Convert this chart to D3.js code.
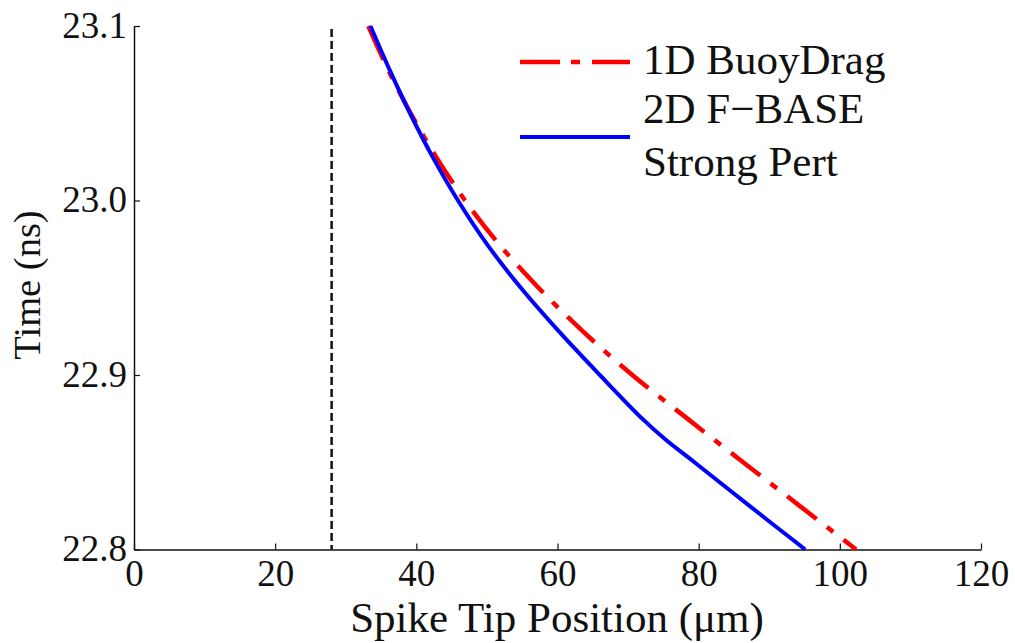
<!DOCTYPE html>
<html>
<head>
<meta charset="utf-8">
<script src="https://cdn.jsdelivr.net/npm/d3@7"></script>
<style>
  html, body { margin: 0; padding: 0; background: #fff; }
  svg { display: block; }
  text { font-family: "Liberation Serif", "Times New Roman", serif; fill: #111; }
</style>
</head>
<body>
<svg id="chart" width="1015" height="643"></svg>
<script>
// Spike tip trajectories: position (µm) versus time (ns)
const buoyDragTime = [23.1, 23.075, 23.05, 23.025, 23.0, 22.975, 22.95, 22.925, 22.9, 22.875, 22.85, 22.825, 22.8];
const buoyDragPos  = [33.2, 36.0, 39.2, 42.8, 46.9, 51.7, 57.3, 63.6, 70.6, 78.4, 86.3, 94.3, 102.3];

const fbaseTime = [23.1, 23.075, 23.05, 23.025, 23.0, 22.975, 22.95, 22.925, 22.9, 22.875, 22.863, 22.85, 22.825, 22.8];
const fbasePos  = [33.5, 36.2, 39.1, 42.3, 45.9, 50.0, 54.8, 60.2, 66.0, 72.0, 75.3, 79.4, 87.2, 95.1];

// Initial interface position (vertical reference line)
const interfacePos = 28;

const xTicks = [0, 20, 40, 60, 80, 100, 120];
const yTicks = [22.8, 22.9, 23.0, 23.1];

const seriesNames = ["1D BuoyDrag", "2D F\u2212BASE", "Strong Pert"];

const svg = d3.select("#chart");
const x = d3.scaleLinear().domain([0, 120]).range([134, 981]);
const y = d3.scaleLinear().domain([22.8, 23.1]).range([549.5, 26]);

// Axes with small inward ticks
const xAxis = d3.axisBottom(x).tickValues(xTicks).tickSizeInner(-6).tickSizeOuter(0).tickPadding(10)
  .tickFormat(d3.format("d"));
const yAxis = d3.axisLeft(y).tickValues(yTicks).tickSizeInner(-6).tickSizeOuter(0).tickPadding(7)
  .tickFormat(d3.format(".1f"));

const gx = svg.append("g").attr("transform", `translate(0,${y(22.8)})`).call(xAxis);
const gy = svg.append("g").attr("transform", `translate(${x(0)},0)`).call(yAxis);
[gx, gy].forEach(g => {
  g.select(".domain").attr("stroke", "#111").attr("stroke-width", 1.5);
  g.selectAll(".tick line").attr("stroke", "#111").attr("stroke-width", 1.2);
  g.selectAll(".tick text").style("font-family", '"Liberation Serif", serif').attr("font-size", 37).attr("fill", "#111");
});
gy.selectAll(".tick text").attr("dy", "0.3em");
gx.selectAll(".tick text").attr("dy", "0.72em");

// Vertical dashed reference line
svg.append("line")
  .attr("x1", x(interfacePos)).attr("x2", x(interfacePos))
  .attr("y1", y(23.1) + 3).attr("y2", y(22.8))
  .attr("stroke", "#111").attr("stroke-width", 2.5).attr("stroke-dasharray", "8,4");

const line = d3.line().x(d => x(d[0])).y(d => y(d[1])).curve(d3.curveCatmullRom.alpha(0.5));

const fbasePts = fbaseTime.map((t, i) => [fbasePos[i], t]);
const buoyPts = buoyDragTime.map((t, i) => [buoyDragPos[i], t]);

svg.append("path").datum(buoyPts).attr("d", line)
  .attr("fill", "none").attr("stroke", "#ff0000").attr("stroke-width", 4.5)
  .attr("stroke-dasharray", "37,13,8,13");

svg.append("path").datum(fbasePts).attr("d", line)
  .attr("fill", "none").attr("stroke", "#0000ff").attr("stroke-width", 4);

// Legend
const lg = svg.append("g");
lg.append("line").attr("x1", 520).attr("x2", 630).attr("y1", 62).attr("y2", 62)
  .attr("stroke", "#ff0000").attr("stroke-width", 4.5).attr("stroke-dasharray", "40,11,9,12,40");
lg.append("line").attr("x1", 520).attr("x2", 630).attr("y1", 137).attr("y2", 137)
  .attr("stroke", "#0000ff").attr("stroke-width", 4);
lg.append("text").attr("x", 643).attr("y", 74).attr("font-size", 43).text(seriesNames[0]);
lg.append("text").attr("x", 643).attr("y", 123).attr("font-size", 43).text(seriesNames[1]);
lg.append("text").attr("x", 643).attr("y", 176).attr("font-size", 43).text(seriesNames[2]);

// Axis titles
svg.append("text").attr("x", 557).attr("y", 632).attr("text-anchor", "middle").attr("font-size", 43)
  .text("Spike Tip Position (\u03bcm)");
svg.append("text").attr("transform", "translate(40,285) rotate(-90)").attr("text-anchor", "middle")
  .attr("font-size", 38.5).text("Time (ns)");
</script>
</body>
</html>
